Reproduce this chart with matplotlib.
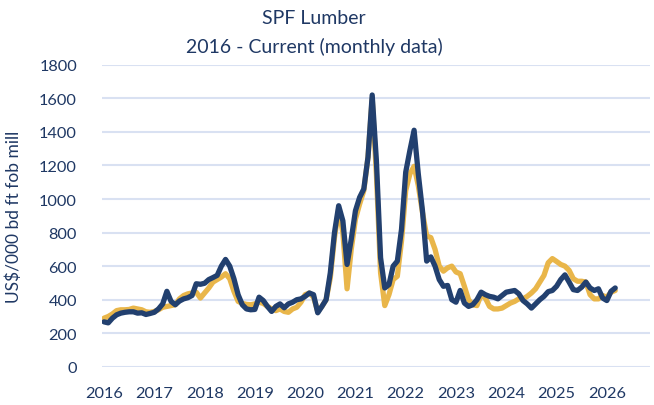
import numpy as np
import matplotlib.pyplot as plt

# monthly prices, Jan 2016 .. Mar 2026 (US$/000 bd ft)
blue_vals = [
    268, 262, 290, 310, 320, 325, 328, 328, 320, 322, 312, 318,   # 2016
    325, 345, 375, 450, 390, 370, 392, 405, 412, 425, 495, 492,   # 2017
    498, 520, 532, 545, 600, 640, 600, 525, 430, 370, 345, 340,   # 2018
    342, 415, 395, 360, 330, 360, 375, 352, 375, 385, 400, 405,   # 2019
    420, 440, 430, 322, 360, 400, 560, 800, 960, 870, 610, 760,   # 2020
    930, 1010, 1060, 1250, 1620, 1230, 650, 470, 490, 600, 630, 820,  # 2021
    1160, 1290, 1410, 1150, 930, 630, 655, 600, 520, 480, 485, 400,   # 2022
    385, 455, 380, 360, 370, 400, 445, 430, 420, 415, 405, 425,   # 2023
    445, 450, 455, 435, 395, 375, 350, 375, 400, 420, 448, 455,   # 2024
    480, 520, 548, 505, 460, 455, 475, 505, 470, 455, 465, 410,   # 2025
    395, 450, 470,                                                # 2026
]
gold_vals = [
    290, 300, 315, 335, 340, 340, 342, 350, 345, 340, 328, 325,
    330, 340, 355, 360, 365, 370, 405, 425, 435, 440, 445, 410,
    440, 470, 505, 520, 535, 555, 525, 450, 390, 378, 372, 370,
    375, 385, 378, 360, 345, 335, 345, 330, 325, 345, 355, 385,
    430, 440, 415, 330, 360, 400, 530, 770, 940, 800, 465, 700,
    880, 970, 1050, 1250, 1600, 1150, 560, 365, 430, 520, 540, 750,
    1050, 1150, 1195, 1080, 920, 780, 770, 700, 600, 570, 590, 600,
    565, 555, 480, 400, 370, 365, 430, 410, 360, 345, 345, 350,
    365, 380, 390, 405, 405, 420, 440, 465, 505, 545, 620, 645,
    628, 610, 600, 575, 525, 510, 510, 505, 430, 405, 405, 425,
    415, 445, 455,
]
years = list(range(2016, 2027))

t = 2016 + np.arange(len(blue_vals)) / 12.0

navy = '#1F3864'
plt.rcParams['font.family'] = ['Lato', 'DejaVu Sans']

fig = plt.figure(figsize=(6.54, 4.06), dpi=100)
ax = fig.add_axes([0.156, 0.094, 0.838, 0.744])

ax.plot(t, gold_vals, color='#E9B64A', lw=3.8, solid_capstyle='round', zorder=3)
ax.plot(t, blue_vals, color='#22406F', lw=3.8, solid_capstyle='round', zorder=4)

ax.set_ylim(0, 1800)
ax.set_yticks(range(0, 1801, 200))
ax.set_xlim(2016 - 0.04, 2026.86)
ax.set_xticks(years)
ax.set_xticklabels([str(y) for y in years])

ax.grid(axis='y', color='#D9E1F2', lw=1.5)
ax.set_axisbelow(True)
for s in ax.spines.values():
    s.set_visible(False)
ax.tick_params(length=0, colors=navy, labelsize=11.8)
ax.tick_params(axis='y', pad=18)
ax.tick_params(axis='x', pad=14)

ax.set_ylabel('US$/000 bd ft fob mill', color=navy, fontsize=12.5, labelpad=12)
fig.text(0.48, 0.955, 'SPF Lumber', ha='center', va='center', color=navy, fontsize=14)
fig.text(0.48, 0.885, '2016 - Current (monthly data)', ha='center', va='center',
         color=navy, fontsize=14)

fig.savefig('out.png', dpi=100)
